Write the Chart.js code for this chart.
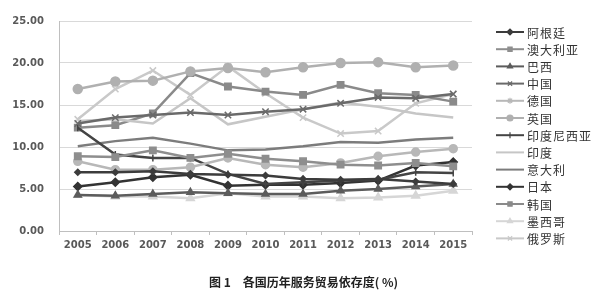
<!DOCTYPE html>
<html>
<head>
<meta charset="utf-8">
<script src="https://cdn.jsdelivr.net/npm/chart.js@4.4.1/dist/chart.umd.min.js"></script>
<style>
  html, body { margin: 0; padding: 0; background: #fff; }
  #wrap { position: relative; width: 607px; height: 296px; }
  #cap {
    position: absolute; left: 0; top: 273px; width: 607px;
    text-align: center; font: bold 12px "Noto Sans CJK SC"; color: #222;
  }
</style>
</head>
<body>
<div id="wrap">
  <canvas id="myChart" width="607" height="296"></canvas>
  <div id="cap">图 1　各国历年服务贸易依存度( %)</div>
</div>
<script>
// years on the x axis
const years = ['2005', '2006', '2007', '2008', '2009', '2010', '2011', '2012', '2013', '2014', '2015'];
const yTicks = [0, 5, 10, 15, 20, 25];

// values (%)
const argentina = [7.0, 7.0, 7.1, 6.8, 6.7, 6.6, 6.2, 6.1, 6.2, 5.9, 5.6];
const australia = [8.9, 8.8, 9.6, 8.7, 9.2, 8.6, 8.3, 7.9, 7.8, 8.1, 7.7];
const brazil    = [4.3, 4.2, 4.4, 4.6, 4.5, 4.4, 4.4, 4.8, 5.0, 5.3, 5.6];
const china     = [12.8, 13.5, 13.8, 14.1, 13.8, 14.2, 14.5, 15.2, 15.9, 15.8, 16.3];
const germany   = [8.3, 7.3, 7.3, 7.6, 8.7, 7.9, 7.6, 8.1, 8.9, 9.4, 9.8];
const uk        = [16.9, 17.8, 17.9, 19.0, 19.4, 18.9, 19.5, 20.0, 20.1, 19.5, 19.7];
const indonesia = [12.3, 9.1, 8.7, 8.7, 6.8, 5.6, 5.8, 6.0, 6.1, 7.0, 6.9];
const india     = [13.1, 13.3, 12.8, 15.8, 12.7, 13.6, 14.5, 15.3, 14.8, 14.0, 13.5];
const italy     = [10.1, 10.7, 11.1, 10.4, 9.6, 9.7, 10.1, 10.6, 10.5, 10.9, 11.1];
const japan     = [5.3, 5.8, 6.4, 6.7, 5.4, 5.5, 5.5, 5.7, 6.0, 7.8, 8.2];
const korea     = [12.3, 12.6, 14.0, 18.8, 17.2, 16.6, 16.2, 17.4, 16.4, 16.2, 15.4];
const mexico    = [4.3, 4.1, 4.1, 3.9, 4.5, 4.1, 4.1, 3.9, 4.0, 4.2, 4.8];
const russia    = [13.3, 16.9, 19.1, 16.2, 19.6, 16.4, 13.5, 11.6, 11.9, 15.2, 16.3];

const seriesNames = ['阿根廷', '澳大利亚', '巴西', '中国', '德国', '英国', '印度尼西亚',
                     '印度', '意大利', '日本', '韩国', '墨西哥', '俄罗斯'];
const seriesValues = [argentina, australia, brazil, china, germany, uk, indonesia,
                      india, italy, japan, korea, mexico, russia];

// look of each series (kept apart from the data)
const seriesStyles = [
  { color: '#3c3c3c', point: 'rectRot', r: 3, legend: 'rectRot' },
  { color: '#8e8e8e', point: 'rect', r: 4.5, legend: 'rect' },
  { color: '#5c5c5c', point: 'triangle', r: 4, legend: 'triangle' },
  { color: '#6a6a6a', point: 'crossRot', r: 4.5, legend: 'crossRot' },
  { color: '#b8b8b8', point: 'circle', r: 4, legend: 'star' },
  { color: '#b0b0b0', point: 'circle', r: 4.5, legend: 'circle' },
  { color: '#444444', point: 'line', r: 3.5, rot: 90, legend: 'line' },
  { color: '#c6c6c6', point: false, r: 0, legend: false },
  { color: '#7c7c7c', point: false, r: 0, legend: false },
  { color: '#333333', point: 'rectRot', r: 4, legend: 'rectRot' },
  { color: '#8a8a8a', point: 'rect', r: 4.5, legend: 'rect' },
  { color: '#d6d6d6', point: 'triangle', r: 4.5, legend: 'triangle' },
  { color: '#c9c9c9', point: 'crossRot', r: 4.5, legend: 'crossRot' }
];

const ctx = document.getElementById('myChart');

const datasets = seriesNames.map((name, i) => {
  const s = seriesStyles[i];
  return {
    label: name,
    data: seriesValues[i],
    borderColor: s.color,
    backgroundColor: s.color,
    borderWidth: 2.5,
    tension: 0,
    pointStyle: s.point,
    pointRadius: s.r,
    pointRotation: s.rot || 0,
    pointBackgroundColor: s.color,
    pointBorderColor: s.color,
    pointBorderWidth: 1.5
  };
});

// legend on the right, drawn as line + marker like the original
const sideLegend = {
  id: 'sideLegend',
  afterDraw(chart) {
    const c = chart.ctx;
    chart.data.datasets.forEach((ds, i) => {
      const s = seriesStyles[i];
      const y = 32 + i * 17.2;
      c.save();
      c.strokeStyle = s.color;
      c.fillStyle = s.color;
      c.lineWidth = 2;
      c.beginPath();
      c.moveTo(496, y);
      c.lineTo(524, y);
      c.stroke();
      if (s.legend) {
        c.lineWidth = 1.2;
        Chart.helpers.drawPoint(c, {
          pointStyle: s.legend,
          radius: 3,
          rotation: s.legend === 'line' ? 90 : 0,
          borderWidth: 1.2
        }, 510, y);
      }
      c.fillStyle = '#333';
      c.font = '12px "Noto Sans CJK SC"';
      c.textBaseline = 'middle';
      c.letterSpacing = '1px';
      c.fillText(ds.label, 527, y + 1);
      c.restore();
    });
  }
};

const tickFont = { family: 'DejaVu Sans', size: 10, weight: 'bold' };

const chart = new Chart(ctx, {
  type: 'line',
  data: { labels: years, datasets: datasets },
  plugins: [sideLegend],
  options: {
    responsive: false,
    animation: false,
    devicePixelRatio: 1,
    layout: { padding: { top: 17, right: 135, bottom: 35, left: 0 } },
    plugins: {
      legend: { display: false },
      tooltip: { enabled: false }
    },
    scales: {
      x: {
        offset: true,
        grid: {
          offset: true,
          drawOnChartArea: false,
          drawTicks: true,
          tickLength: 4,
          color: '#bfbfbf'
        },
        border: { color: '#bfbfbf' },
        ticks: { font: tickFont, color: '#595959', padding: 4, maxRotation: 0, autoSkip: false },
        afterFit: s => { s.height = 30; }
      },
      y: {
        min: 0,
        max: 25,
        afterBuildTicks: s => { s.ticks = yTicks.map(v => ({ value: v })); },
        grid: { color: '#d9d9d9', drawTicks: false },
        border: { color: '#bfbfbf' },
        ticks: {
          font: tickFont,
          color: '#595959',
          padding: 15,
          callback: v => v.toFixed(2)
        },
        afterFit: s => { s.width = 59; }
      }
    }
  }
});
</script>
</body>
</html>
